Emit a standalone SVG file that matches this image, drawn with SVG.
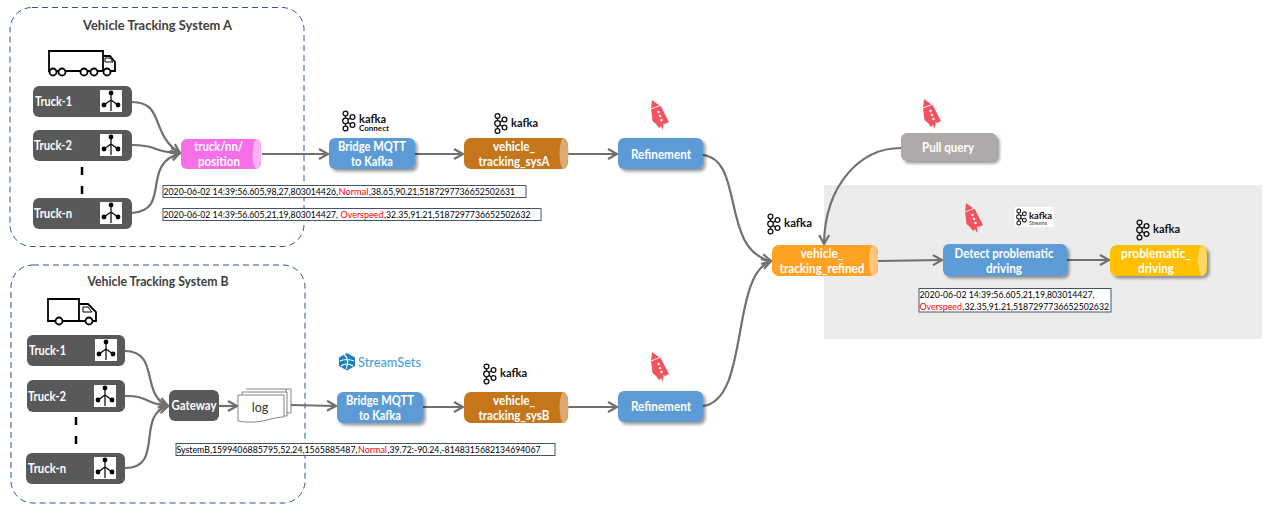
<svg xmlns="http://www.w3.org/2000/svg" width="1277" height="517" viewBox="0 0 1277 517">
<style>
text{font-family:Lato,"Liberation Sans",sans-serif}
.w{fill:#fff;font-weight:700;font-size:12.5px;text-anchor:middle}
.t{fill:#fff;font-weight:700;font-size:12.5px}
.d{fill:#000;font-size:8.7px}
.r{fill:#f00;font-size:8.7px}
.box{fill:#fff;stroke:#44546a;stroke-width:1}
.grp{fill:none;stroke:#2f5597;stroke-width:1;stroke-dasharray:6 4}
.h{fill:#404040;font-weight:700;font-size:13px;text-anchor:middle}
.tr{fill:#595959}
.blue{fill:#5b9bd5}
.c{fill:none;stroke:#726f6d;stroke-width:2.2}
.k{font-size:11.5px;font-weight:700;fill:#111}
.logo{fill:none;stroke:#111;stroke-width:1.3}
.cap{filter:url(#sh)}
</style>
<defs>
<filter id="sh" x="-15%" y="-20%" width="130%" height="150%"><feDropShadow dx="2.500" dy="2.500" stdDeviation="1.500" flood-color="#000" flood-opacity=".4"/></filter>
<marker id="a" markerUnits="userSpaceOnUse" markerWidth="14" markerHeight="14" refX="11" refY="6" orient="auto"><path d="M2 1L11 6L2 11" fill="none" stroke="#726f6d" stroke-width="2.200"/></marker>
<g id="ic"><rect x="0" y="0" width="22" height="22" fill="#fff"/><path d="M11 2V21M11 10L4 15M11 10L18 15" stroke="#000" fill="none" stroke-width="1.200"/><circle cx="11" cy="3" r="2.400"/><circle cx="4" cy="15" r="2.400"/><circle cx="18" cy="15" r="2.400"/></g>
<g id="rk"><path d="M1 0L10 6.500L18 22L14 24L12.500 23L12 30L10 26L8 28L5 24L1.500 21L0 9Z" fill="#f2545f"/><path d="M0 9L9 5.500" stroke="#fff" stroke-width=".9"/><circle cx="7.500" cy="12" r="1.200" fill="#fff"/><circle cx="9" cy="16" r="1.200" fill="#fff"/><circle cx="10.500" cy="20" r="1.200" fill="#fff"/></g>
<g id="kl"><g class="logo"><circle cx="6" cy="2.500" r="2.400"/><circle cx="6" cy="10" r="2.800"/><circle cx="6" cy="17.500" r="2.400"/><circle cx="13" cy="6" r="2.400"/><circle cx="13" cy="14" r="2.400"/><path d="M6 5V7M6 13V15M8.500 8.500L11 7M8.500 11.500L11 13"/></g></g>
</defs>
<rect width="1277" height="517" fill="#fff"/>
<rect x="824" y="185" width="438" height="154" fill="#ececec"/>
<rect id="sysA" class="grp" x="10" y="7.500" width="294" height="239" rx="22"/>
<rect id="sysB" class="grp" x="11" y="265" width="294" height="238" rx="22"/>
<text class="h" x="157.500" y="30" textLength="149" lengthAdjust="spacingAndGlyphs">Vehicle Tracking System A</text>
<text class="h" x="158" y="286" textLength="141" lengthAdjust="spacingAndGlyphs">Vehicle Tracking System B</text>
<g id="connectors">
<path class="c" marker-end="url(#a)" d="M132 102C165 102 150 135 180 153"/>
<path class="c" marker-end="url(#a)" d="M132 145C160 145 150 152 180 153"/>
<path class="c" marker-end="url(#a)" d="M132 213C172 210 140 165 180 153"/>
<path class="c" marker-end="url(#a)" d="M262 154H328"/>
<path class="c" marker-end="url(#a)" d="M415 154H463"/>
<path class="c" marker-end="url(#a)" d="M568 154H617"/>
<path class="c" marker-end="url(#a)" d="M703 155C745 160 720 250 771 261"/>
<path class="c" marker-end="url(#a)" d="M125 351C160 351 140 395 168 406"/>
<path class="c" marker-end="url(#a)" d="M125 396C150 396 145 404 168 406"/>
<path class="c" marker-end="url(#a)" d="M125 468C165 468 135 415 168 406"/>
<path class="c" marker-end="url(#a)" d="M219 406H237"/>
<path class="c" marker-end="url(#a)" d="M291 405L336 406"/>
<path class="c" marker-end="url(#a)" d="M423 407H463"/>
<path class="c" marker-end="url(#a)" d="M568 407H617"/>
<path class="c" marker-end="url(#a)" d="M703 406C750 400 730 275 771 261"/>
<path class="c" marker-end="url(#a)" d="M901 148C860 148 825 185 824 244"/>
<path class="c" marker-end="url(#a)" d="M878 261L942 260"/>
<path class="c" marker-end="url(#a)" d="M1067 260H1109"/>
</g>
<g id="truck-a"><path d="M49 51H103V71H49Z M103 56H110L115 62V71H103Z" fill="#fff" stroke="#000" stroke-width="1.800"/><path d="M105 58H110L113 62H105Z" fill="none" stroke="#000"/><g fill="#fff" stroke="#000" stroke-width="1.800"><circle cx="53" cy="72" r="3.500"/><circle cx="62" cy="72" r="3.500"/><circle cx="84" cy="72" r="3.500"/><circle cx="94" cy="72" r="3.500"/><circle cx="107" cy="72" r="3.500"/></g></g>
<g id="truck-b"><path d="M48 299H79V321H48Z M79 304H88L96 312V321H79Z" fill="#fff" stroke="#000" stroke-width="1.800"/><path d="M83 307H88L92 312H83Z" fill="none" stroke="#000"/><circle cx="59" cy="321" r="3.500" fill="#fff" stroke="#000" stroke-width="1.800"/><circle cx="89" cy="321" r="3.500" fill="#fff" stroke="#000" stroke-width="1.800"/></g>
<g id="a-truck-1"><rect class="tr" x="33" y="86" width="99" height="31" rx="6"/><text class="t" x="35" y="106" textLength="37" lengthAdjust="spacingAndGlyphs">Truck-1</text><use href="#ic" x="100" y="90"/></g>
<g id="a-truck-2"><rect class="tr" x="33" y="130" width="99" height="31" rx="6"/><text class="t" x="34" y="150" textLength="38" lengthAdjust="spacingAndGlyphs">Truck-2</text><use href="#ic" x="100" y="134"/></g>
<g id="a-truck-n"><rect class="tr" x="33" y="198" width="99" height="31" rx="6"/><text class="t" x="34" y="218" textLength="38" lengthAdjust="spacingAndGlyphs">Truck-n</text><use href="#ic" x="100" y="202"/></g>
<path d="M82 167V175M82 186V194" stroke="#000" stroke-width="2.500"/>
<g id="b-truck-1"><rect class="tr" x="27" y="335" width="98" height="31" rx="6"/><text class="t" x="29" y="355" textLength="37" lengthAdjust="spacingAndGlyphs">Truck-1</text><use href="#ic" x="95" y="339"/></g>
<g id="b-truck-2"><rect class="tr" x="27" y="380" width="98" height="32" rx="6"/><text class="t" x="28" y="401" textLength="38" lengthAdjust="spacingAndGlyphs">Truck-2</text><use href="#ic" x="94" y="385"/></g>
<g id="b-truck-n"><rect class="tr" x="26" y="453" width="99" height="31" rx="6"/><text class="t" x="28" y="473" textLength="38" lengthAdjust="spacingAndGlyphs">Truck-n</text><use href="#ic" x="94" y="457"/></g>
<path d="M76 417V425M76 436V444" stroke="#000" stroke-width="2.500"/>
<g id="topic"><rect x="181" y="139" width="80" height="30" rx="6" fill="#f66ee8"/><ellipse cx="257" cy="154" rx="4.500" ry="15" fill="#fbb4f3"/><text class="w" x="218.500" y="151" textLength="49" lengthAdjust="spacingAndGlyphs">truck/nn/</text><text class="w" x="219" y="166" textLength="42" lengthAdjust="spacingAndGlyphs">position</text></g>
<g id="bridge-a"><rect class="blue cap" x="329" y="138" width="86" height="31" rx="6"/><text class="w" x="372" y="151" textLength="68" lengthAdjust="spacingAndGlyphs">Bridge MQTT</text><text class="w" x="372" y="166" textLength="42" lengthAdjust="spacingAndGlyphs">to Kafka</text></g>
<g id="sys-a"><rect x="464" y="138" width="104" height="31" rx="7" fill="#c5761a"/><ellipse cx="564" cy="153.500" rx="4.500" ry="15.500" fill="#dcaa72"/><text class="w" x="514" y="151" textLength="42" lengthAdjust="spacingAndGlyphs">vehicle_</text><text class="w" x="514" y="166" textLength="71" lengthAdjust="spacingAndGlyphs">tracking_sysA</text></g>
<g id="ref-a"><rect class="blue cap" x="618" y="138" width="85" height="31" rx="6"/><text class="w" x="661" y="159" textLength="60" lengthAdjust="spacingAndGlyphs">Refinement</text></g>
<g id="gateway"><rect class="tr" x="169" y="390" width="50" height="31" rx="6"/><text class="w" x="194" y="410" textLength="45" lengthAdjust="spacingAndGlyphs">Gateway</text></g>
<g id="log"><g fill="#fff" stroke="#666" stroke-width=".8"><path d="M246 389H291V413H286V389"/><path d="M242 392H287V416H242Z"/><path d="M238 395H284V417C270 417 262 425 238 421Z"/></g><text x="260" y="412" font-size="12.500" text-anchor="middle" fill="#333">log</text></g>
<g id="bridge-b"><rect class="blue cap" x="337" y="392" width="86" height="31" rx="6"/><text class="w" x="380" y="405" textLength="68" lengthAdjust="spacingAndGlyphs">Bridge MQTT</text><text class="w" x="380" y="420" textLength="42" lengthAdjust="spacingAndGlyphs">to Kafka</text></g>
<g id="sys-b"><rect x="464" y="392" width="104" height="31" rx="7" fill="#c5761a"/><ellipse cx="564" cy="407.500" rx="4.500" ry="15.500" fill="#dcaa72"/><text class="w" x="514" y="405" textLength="42" lengthAdjust="spacingAndGlyphs">vehicle_</text><text class="w" x="514" y="420" textLength="71" lengthAdjust="spacingAndGlyphs">tracking_sysB</text></g>
<g id="ref-b"><rect class="blue cap" x="618" y="391" width="85" height="31" rx="6"/><text class="w" x="661" y="411" textLength="60" lengthAdjust="spacingAndGlyphs">Refinement</text></g>
<g id="refined"><rect x="772" y="245" width="106" height="31" rx="7" fill="#ffa224"/><ellipse cx="873.500" cy="260.500" rx="4.500" ry="15.500" fill="#ffc77d"/><text class="w" x="822" y="258" textLength="43" lengthAdjust="spacingAndGlyphs">vehicle_</text><text class="w" x="822" y="273" textLength="85" lengthAdjust="spacingAndGlyphs">tracking_refined</text></g>
<g id="detect"><rect class="blue cap" x="943" y="244" width="124" height="32" rx="6"/><text class="w" x="1004" y="258" textLength="99" lengthAdjust="spacingAndGlyphs">Detect problematic</text><text class="w" x="1004" y="273" textLength="36" lengthAdjust="spacingAndGlyphs">driving</text></g>
<g id="problematic"><rect class="cap" x="1110" y="245" width="97" height="31" rx="7" fill="#ffc000"/><ellipse cx="1202.500" cy="260.500" rx="4.500" ry="15.500" fill="#ffd966"/><text class="w" x="1156" y="258" textLength="70" lengthAdjust="spacingAndGlyphs">problematic_</text><text class="w" x="1156" y="273" textLength="36" lengthAdjust="spacingAndGlyphs">driving</text></g>
<g id="pull"><rect class="cap" x="901" y="133" width="96" height="28" rx="6" fill="#aeaaaa"/><text class="w" x="948" y="152" textLength="52" lengthAdjust="spacingAndGlyphs">Pull query</text></g>
<use href="#rk" x="651" y="100"/><use href="#rk" x="923" y="99"/><use href="#rk" x="965" y="203"/><use href="#rk" x="651" y="352"/>
<g id="logo-connect"><use href="#kl" x="339.500" y="111"/><text class="k" x="359" y="123" textLength="27" lengthAdjust="spacingAndGlyphs">kafka</text><text x="359" y="130.500" font-size="7" font-weight="700" fill="#111" textLength="30" lengthAdjust="spacingAndGlyphs">Connect</text></g>
<g id="logo-a"><use href="#kl" x="491.500" y="113.500"/><text class="k" x="511" y="127" textLength="27" lengthAdjust="spacingAndGlyphs">kafka</text></g>
<g id="logo-b"><use href="#kl" x="480.500" y="364"/><text class="k" x="500" y="377" textLength="27" lengthAdjust="spacingAndGlyphs">kafka</text></g>
<g id="logo-refined"><use href="#kl" x="764.500" y="214"/><text class="k" x="784" y="227" textLength="28" lengthAdjust="spacingAndGlyphs">kafka</text></g>
<g id="logo-prob"><use href="#kl" x="1133.500" y="220"/><text class="k" x="1153" y="233" textLength="27" lengthAdjust="spacingAndGlyphs">kafka</text></g>
<g id="logo-streams"><rect x="1014.500" y="207" width="39.500" height="20" fill="#fff"/><use href="#kl" transform="translate(1014 209) scale(.8)"/><text x="1029" y="219" font-size="8.500" font-weight="700" fill="#111" textLength="23" lengthAdjust="spacingAndGlyphs">kafka</text><text x="1029" y="225" font-size="5" fill="#333" textLength="18" lengthAdjust="spacingAndGlyphs">Streams</text></g>
<g id="logo-ss"><path d="M347 353L355 357.500V366L347 370.500L339 366V357.500Z" fill="#1f7fbf"/><path d="M340 361Q347 358 354 361M341 366Q347 362 353 366M344 354Q350 360 346 369" stroke="#fff" fill="none" stroke-width="1.200"/><text x="358" y="367" font-size="14" fill="#4aa3d8" font-weight="500" textLength="63" lengthAdjust="spacingAndGlyphs">StreamSets</text></g>
<g id="rec-a1"><rect class="box" x="163" y="185.500" width="363" height="12"/><text class="d" x="163.500" y="195" textLength="174.500" lengthAdjust="spacingAndGlyphs">2020-06-02 14:39:56.605,98,27,803014426,</text><text class="r" x="338.500" y="195" textLength="30" lengthAdjust="spacingAndGlyphs">Normal</text><text class="d" x="369" y="195" textLength="146" lengthAdjust="spacingAndGlyphs">,38.65,90.21,5187297736652502631</text></g>
<g id="rec-a2"><rect class="box" x="163" y="208.500" width="378" height="12"/><text class="d" x="163.500" y="218" textLength="174.500" lengthAdjust="spacingAndGlyphs">2020-06-02 14:39:56.605,21,19,803014427,</text><text class="r" x="340.500" y="218" textLength="43" lengthAdjust="spacingAndGlyphs">Overspeed</text><text class="d" x="384" y="218" textLength="146.500" lengthAdjust="spacingAndGlyphs">,32.35,91.21,5187297736652502632</text></g>
<g id="rec-b"><rect class="box" x="176" y="443.500" width="379" height="12"/><text class="d" x="176.500" y="453" textLength="181" lengthAdjust="spacingAndGlyphs">SystemB,1599406885795,52,24,1565885487,</text><text class="r" x="358" y="453" textLength="29" lengthAdjust="spacingAndGlyphs">Normal</text><text class="d" x="387.500" y="453" textLength="153" lengthAdjust="spacingAndGlyphs">,39.72:-90.24,-8148315682134694067</text></g>
<g id="rec-c"><rect class="box" x="919" y="288.500" width="192" height="23.500"/><text class="d" x="919.500" y="297.500" textLength="175" lengthAdjust="spacingAndGlyphs">2020-06-02 14:39:56.605,21,19,803014427,</text><text class="r" x="919.500" y="309.500" textLength="42.500" lengthAdjust="spacingAndGlyphs">Overspeed</text><text class="d" x="962.500" y="309.500" textLength="146.500" lengthAdjust="spacingAndGlyphs">,32.35,91.21,5187297736652502632</text></g>
</svg>
